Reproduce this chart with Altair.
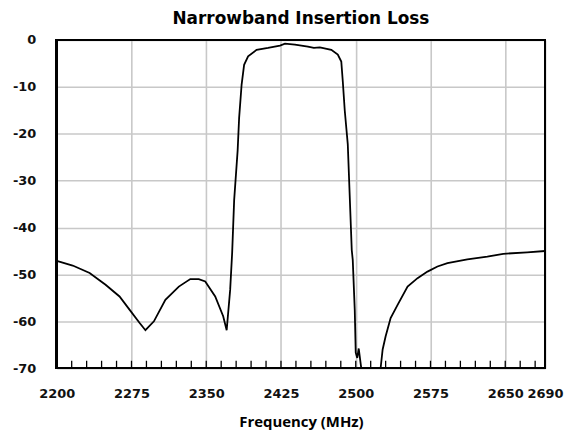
import altair as alt
import pandas as pd

# ---- data ----
freq_mhz = [2200, 2216, 2233, 2249, 2263, 2273, 2283, 2289, 2297.5, 2309, 2322.5, 2334,
            2342.5, 2349, 2359, 2367, 2370.5, 2374, 2376, 2378, 2381.5, 2383, 2385.5,
            2388, 2392, 2400.5, 2412, 2424, 2429, 2439, 2452, 2458, 2464, 2475.5, 2482,
            2485.5, 2487, 2489, 2492, 2496, 2497, 2499, 2500, 2501.5, 2503, 2505.5,
            2510, 2516, 2522, 2525, 2527, 2530, 2535, 2542, 2552, 2562, 2572, 2582,
            2592, 2612, 2632, 2648, 2672, 2690]
loss_db = [-47.1, -48.1, -49.7, -52.2, -54.7, -57.5, -60.3, -61.9, -60.0, -55.4, -52.6, -51.0,
           -51.0, -51.5, -54.7, -58.9, -61.9, -53.3, -45.4, -34.2, -23.6, -16.6, -9.5,
           -5.3, -3.5, -2.1, -1.7, -1.2, -0.8, -1.0, -1.4, -1.7, -1.6, -2.1, -3.1,
           -4.6, -8.8, -15.1, -22.2, -44.8, -46.9, -57.5, -66.7, -67.8, -65.8, -69.9,
           -75.0, -78.0, -75.0, -69.9, -66.0, -63.2, -59.3, -56.5, -52.6, -50.8, -49.4, -48.3,
           -47.6, -46.8, -46.2, -45.6, -45.3, -45.0]

x_label_values = [2200, 2275, 2350, 2425, 2500, 2575, 2650, 2690]
y_label_values = [0, -10, -20, -30, -40, -50, -60, -70]
minor_tick_freqs = [2215, 2230, 2245, 2260, 2275, 2290, 2305, 2320, 2335, 2350, 2365,
                    2380, 2395, 2410, 2425, 2440, 2455, 2470, 2485, 2500, 2515, 2530,
                    2545, 2560, 2575, 2590, 2605, 2620, 2635, 2650, 2665, 2680]

df = pd.DataFrame({"freq": freq_mhz, "loss": loss_db})
ticks_df = pd.DataFrame({"freq": minor_tick_freqs})

W, H = 491, 330

x_scale = alt.Scale(domain=[2200, 2690], nice=False, zero=False)
y_scale = alt.Scale(domain=[-70, 0], nice=False, zero=False)

label_font = "DejaVu Sans"
grid_color = "#c8c8c8"

line = alt.Chart(df).mark_line(color="black", strokeWidth=1.8, clip=True).encode(
    x=alt.X("freq:Q", scale=x_scale,
            axis=alt.Axis(values=x_label_values, title="Frequency (MHz)",
                          labelExpr="'' + datum.value",
                          titleFont="Open Sans", titleFontSize=15, titleFontWeight="bold",
                          titleColor="black", titlePadding=15,
                          labelFont=label_font, labelFontSize=13, labelFontWeight="bold",
                          labelColor="#111111", labelPadding=19, ticks=False,
                          domain=False, grid=True, gridColor=grid_color, gridWidth=1.6,
                          labelFlush=False, labelOverlap=False)),
    y=alt.Y("loss:Q", scale=y_scale,
            axis=alt.Axis(values=y_label_values, title=None,
                          labelExpr="'' + datum.value",
                          labelFont=label_font, labelFontSize=13, labelFontWeight="bold",
                          labelColor="#111111", labelPadding=21, ticks=False,
                          domain=False, grid=True, gridColor=grid_color, gridWidth=1.6,
                          labelFlush=False, labelOverlap=False)),
)

ticks = alt.Chart(ticks_df).mark_rule(color="black", strokeWidth=1.3).encode(
    x=alt.X("freq:Q", scale=x_scale),
    y=alt.value(H),
    y2=alt.value(H - 7.5),
)

border = alt.Chart(ticks_df).mark_rect(fill=None, filled=False, stroke="black",
                                       strokeWidth=1.8).encode(
    x=alt.value(0), x2=alt.value(W), y=alt.value(0), y2=alt.value(H),
)

chart = alt.layer(ticks, line, border).properties(
    width=W, height=H,
    title=alt.TitleParams("Narrowband Insertion Loss", font="DejaVu Sans", fontSize=17,
                          fontWeight="bold", color="black", offset=6.5, anchor="middle"),
    autosize=alt.AutoSizeParams(type="none"),
    padding={"left": 49, "top": 31, "right": 20, "bottom": 66},
).configure_view(stroke=None)

chart.save("out.html", embed_options={"renderer": "svg", "actions": False})
